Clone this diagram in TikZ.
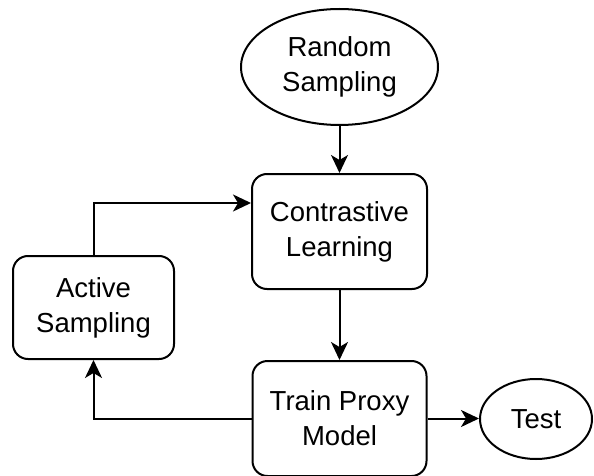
\documentclass[tikz,border=0pt]{standalone}
\usepackage{fontspec}
\setmainfont{Liberation Sans}
\usepackage{tikz}
\usetikzlibrary{arrows.meta,positioning,calc,shapes.geometric}
\tikzset{
  flowbox/.style={rounded corners=15pt, draw=black, line width=2pt, fill=white,
                  inner sep=0pt, align=center, font=\fontsize{27.5}{35}\selectfont},
  flowell/.style={ellipse, draw=black, line width=2pt, fill=white,
                  inner sep=0pt, align=center, font=\fontsize{27.5}{35}\selectfont},
  flowarr/.style={-{Stealth[length=18pt,width=17pt,inset=5pt]}, draw=black, line width=2pt},
}

\begin{document}
\begin{tikzpicture}[x=1pt,y=-1pt]
\useasboundingbox (0,0) rectangle (594,476);
\node[flowell, minimum width=197pt, minimum height=116pt]
  (rnd) at (339.5,67) {Random\\Sampling};
\node[flowbox, minimum width=175pt, minimum height=115pt]
  (con) at (339.5,231.5) {Contrastive\\Learning};
\node[flowbox, minimum width=174pt, minimum height=115pt]
  (trn) at (339.5,418.5) {Train Proxy\\Model};
\node[flowbox, minimum width=161pt, minimum height=103pt]
  (act) at (93.5,307.5) {Active\\Sampling};
\node[flowell, minimum width=112pt, minimum height=80pt]
  (tst) at (536,419) {Test};
\draw[flowarr] (rnd) -- (con);
\draw[flowarr] (con) -- (trn);
\draw[flowarr] (trn.east) -- (trn.east -| tst.west);
\draw[flowarr] (trn.west) -| (act.south);
\draw[flowarr] (act.north) |- ([yshift=28.5pt]con.west);
\end{tikzpicture}
\end{document}
